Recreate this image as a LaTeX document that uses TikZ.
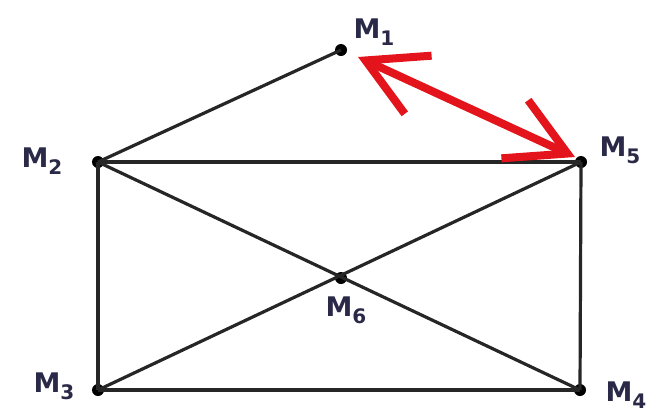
\documentclass[tikz,border=0pt]{standalone}
\usepackage{fontspec}
\setmainfont{DejaVu Sans}
\usetikzlibrary{arrows.meta}
\definecolor{lbl}{HTML}{2A2A48}
\definecolor{arr}{HTML}{E3141C}
\newcommand{\Mlab}[1]{M\raisebox{-7pt}{\fontsize{20}{22}\selectfont #1}}
\begin{document}
\begin{tikzpicture}[x=1pt,y=-1pt,
  pt/.style={circle,fill=black,inner sep=0pt,minimum size=12pt},
  lab/.style={text=lbl,font=\fontsize{27}{30}\selectfont\bfseries,inner sep=0pt},
  edge/.style={line width=3.2pt,black!85},
  dbl/.style={arr,line width=8pt,
    {Straight Barb[length=58pt,width=64pt,line width=8pt]}-{Straight Barb[length=58pt,width=64pt,line width=8pt]}}]
\useasboundingbox (0,0) rectangle (658,416);
\node[pt] (m1) at (341,50) {};
\node[pt] (m2) at (98,162) {};
\node[pt] (m5) at (581,162) {};
\node[pt] (m3) at (98,390) {};
\node[pt] (m4) at (580,390) {};
\node[pt] (m6) at (341,278) {};
\draw[edge] (m1.center) -- (m2.center);
\draw[edge] (m2.center) -- (m5.center);
\draw[edge] (m2.center) -- (m3.center);
\draw[edge] (m5.center) -- (m4.center);
\draw[edge] (m3.center) -- (m4.center);
\draw[edge] (m2.center) -- (m4.center);
\draw[edge] (m3.center) -- (m5.center);
\coordinate (a1) at (358,57);
\coordinate (a5) at (575,157);
\draw[dbl] (a1) -- (a5);
\node[lab] (l1) at (374,32) {\Mlab{1}};
\node[lab] (l2) at (42,161) {\Mlab{2}};
\node[lab] (l3) at (54,386) {\Mlab{3}};
\node[lab] (l4) at (626,395) {\Mlab{4}};
\node[lab] (l5) at (620,150) {\Mlab{5}};
\node[lab] (l6) at (346,310) {\Mlab{6}};
\end{tikzpicture}
\end{document}
